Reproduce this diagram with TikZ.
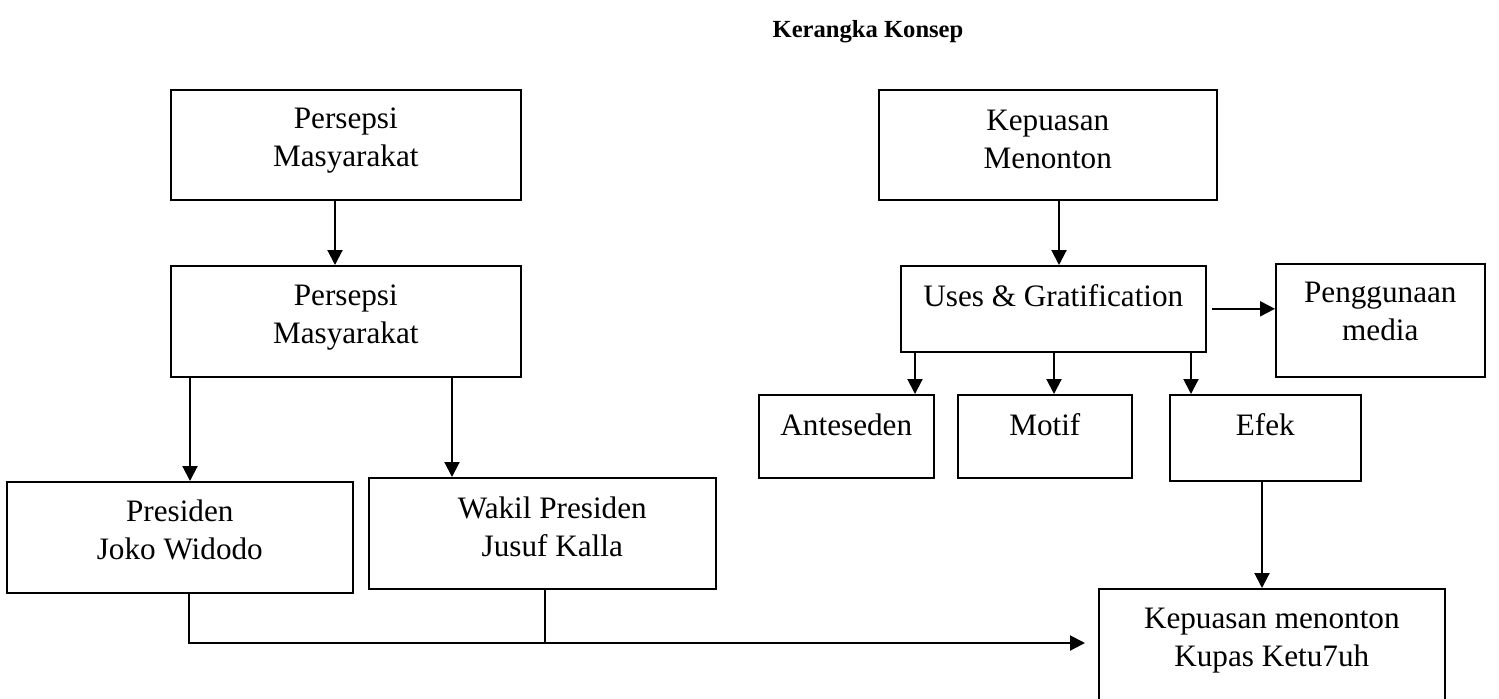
\documentclass[tikz,border=0pt]{standalone}
\usepackage{fontspec}
\setmainfont{Liberation Serif}
\usetikzlibrary{arrows.meta}

\begin{document}
\begin{tikzpicture}[x=0.5pt,y=-0.5pt,->,>={Triangle[length=7.5pt,width=7.5pt]},line width=1pt,
                kotak/.style={draw,line width=0.8pt,anchor=north west,inner sep=0pt},
                teks/.style={align=center,anchor=north,inner sep=0pt,font=\fontsize{15.6}{19}\selectfont}]
    \useasboundingbox (0,0) rectangle (1499,698);
    \node[font=\bfseries\fontsize{12.3}{15}\selectfont] (judul) at (868,32) {Kerangka Konsep};

    % kiri
    \node[kotak,minimum width=175pt,minimum height=55pt] (pers1) at (170,89) {};
    \node[kotak,minimum width=175pt,minimum height=55.5pt] (pers2) at (170,265) {};
    \node[kotak,minimum width=173pt,minimum height=55.5pt] (pres) at (6,481) {};
    \node[kotak,minimum width=173.5pt,minimum height=55.5pt] (wapres) at (368,477) {};
    \node[teks] (pers1t) at ([yshift=-9pt]pers1.north) {Persepsi\\Masyarakat};
    \node[teks] (pers2t) at ([yshift=-9.5pt]pers2.north) {Persepsi\\Masyarakat};
    \node[teks] (prest) at ([yshift=-9pt]pres.north) {Presiden\\Joko Widodo};
    \node[teks] (wapt) at ([xshift=5pt,yshift=-9.5pt]wapres.north) {Wakil Presiden\\Jusuf Kalla};

    % kanan
    \node[kotak,minimum width=169pt,minimum height=55pt] (kep) at (878,89) {};
    \node[kotak,minimum width=152.5pt,minimum height=43pt] (uses) at (900,265) {};
    \node[kotak,minimum width=104.5pt,minimum height=56.5pt] (peng) at (1275,263) {};
    \node[kotak,minimum width=87.5pt,minimum height=41.5pt] (ant) at (758,394) {};
    \node[kotak,minimum width=87pt,minimum height=41.5pt] (motif) at (957,394) {};
    \node[kotak,minimum width=95.5pt,minimum height=43pt] (efek) at (1169,394) {};
    \node[kotak,minimum width=173pt,minimum height=60pt] (kupas) at (1098,588) {};
    \node[teks] (kept) at ([yshift=-10pt]kep.north) {Kepuasan\\Menonton};
    \node[teks] (usest) at ([yshift=-9.5pt]uses.north) {Uses \& Gratification};
    \node[teks] (pengt) at ([yshift=-9pt]peng.north) {Penggunaan\\media};
    \node[teks] (antt) at ([yshift=-9.5pt]ant.north) {Anteseden};
    \node[teks] (motift) at ([yshift=-9.5pt]motif.north) {Motif};
    \node[teks] (efekt) at ([yshift=-9.5pt]efek.north) {Efek};
    \node[teks] (kupast) at ([yshift=-9.5pt]kupas.north) {Kepuasan menonton\\Kupas Ketu7uh};

    \coordinate (gabung) at (545,643);

    \draw (335,0 |- pers1.south) -- (335,0 |- pers2.north);
    \draw (190,0 |- pers2.south) -- (190,0 |- pres.north);
    \draw (452,0 |- pers2.south) -- (452,0 |- wapres.north);
    \draw[-] (189,0 |- pres.south) |- (gabung);
    \draw[-] (545,0 |- wapres.south) -- (gabung);
    \draw[shorten >=6.5pt] (gabung) -- (kupas.west |- gabung);

    \draw (1059,0 |- kep.south) -- (1059,0 |- uses.north);
    \draw ([xshift=2.5pt]uses.east) -- (uses.east -| peng.west);
    \draw (915,0 |- uses.south) -- (915,0 |- ant.north);
    \draw (1054,0 |- uses.south) -- (1054,0 |- motif.north);
    \draw (1191,0 |- uses.south) -- (1191,0 |- efek.north);
    \draw (1262,0 |- efek.south) -- (1262,0 |- kupas.north);
\end{tikzpicture}
\end{document}
